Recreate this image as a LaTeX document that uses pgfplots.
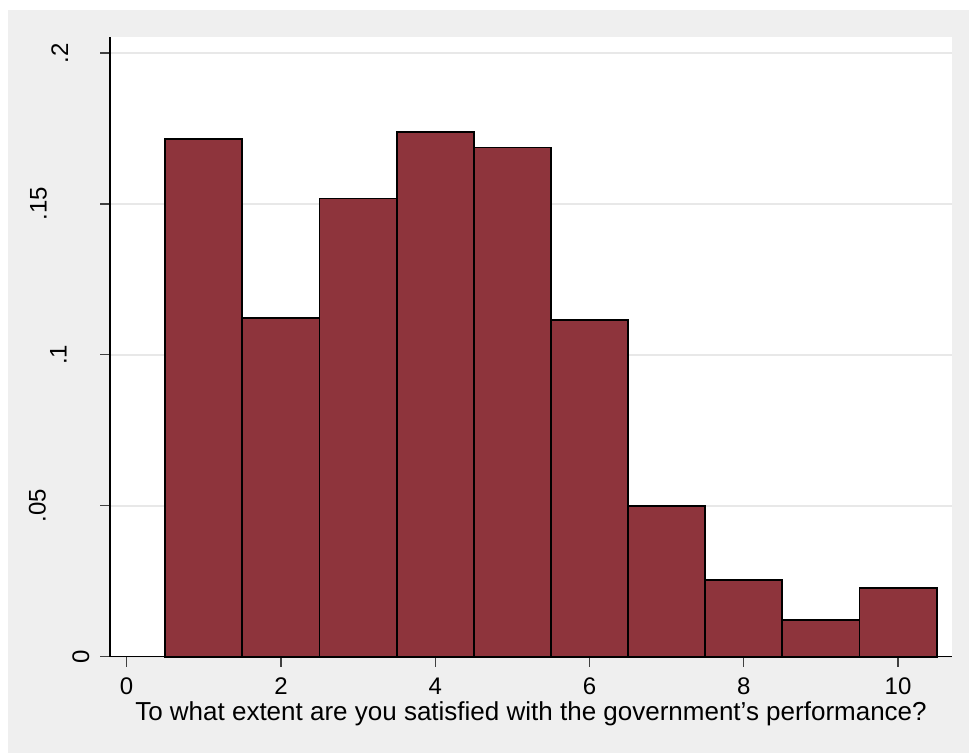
\documentclass[border=0pt]{standalone}
\usepackage{pgfplots}
\pgfplotsset{compat=1.18}
\usepackage{fontspec}
\setmainfont{Liberation Sans}
\definecolor{bgGray}{RGB}{239,239,239}
\definecolor{barRed}{RGB}{142,52,60}
\definecolor{gridGray}{RGB}{232,232,232}
\begin{document}
\begin{tikzpicture}
\fill[white] (0pt,0pt) rectangle (726.75pt,564.75pt);
\fill[bgGray] (6pt,0pt) rectangle (726.75pt,557.25pt);
\begin{axis}[
  at={(82.5pt,72.2pt)}, anchor=south west,
  scale only axis, width=631.5pt, height=465pt,
  axis background/.style={fill=white},
  xmin=-0.216, xmax=10.70, ymin=0, ymax=0.2054,
  axis lines*=left,
  axis line style={black, line width=0.9pt},
  tick align=outside,
  major tick length=7.5pt,
  tick style={black!75, line width=0.9pt},
  xtick={0,2,4,6,8,10},
  ytick={0,0.05,0.1,0.15,0.2},
  yticklabels={0,\raisebox{32.5pt}{.05},\raisebox{16.7pt}{.1},\raisebox{31.7pt}{.15},\raisebox{15.75pt}{.2}},
  ymajorgrids, xmajorgrids=false,
  grid style={gridGray, line width=1.2pt},
  /pgf/number format/assume math mode=true,
  tick label style={font=\fontsize{18}{20}\selectfont},
  yticklabel style={rotate=90, anchor=base, yshift=8.25pt},
  xticklabel style={anchor=base, yshift=-21pt},
  xlabel={To what extent are you satisfied with the government’s performance?},
  xlabel style={font=\fontsize{19.5}{22}\selectfont, at={(axis description cs:0.5,0)}, anchor=base, yshift=-48pt},
  clip=false,
]
\addplot[ybar interval, fill=barRed, draw=black, line width=1.4pt] coordinates {
 (0.5,0.1715) (1.5,0.1122) (2.5,0.1518) (3.5,0.1738) (4.5,0.1687)
 (5.5,0.1115) (6.5,0.0500) (7.5,0.0255) (8.5,0.0121) (9.5,0.0228) (10.5,0.0228)
};
\end{axis}
\end{tikzpicture}
\end{document}
